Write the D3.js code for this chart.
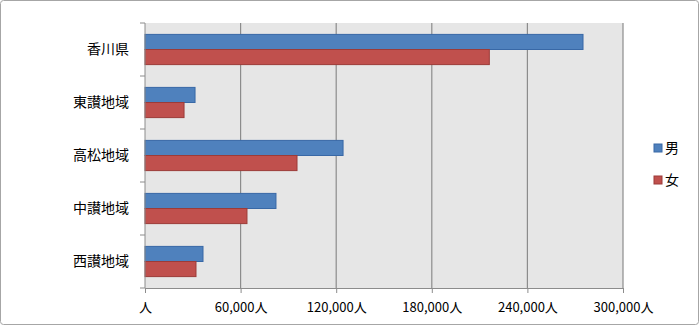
<!DOCTYPE html>
<html><head><meta charset="utf-8">
<script src="https://cdn.jsdelivr.net/npm/d3@7"></script>
<style>body{margin:0;background:#fff}svg{display:block}text{font-family:"Noto Sans CJK JP",sans-serif}</style>
</head><body><svg id="c" width="700" height="326"></svg>
<script>
const categories = ["香川県","東讃地域","高松地域","中讃地域","西讃地域"];
const seriesNames = ["男","女"];
const male = [274900, 31400, 124300, 82200, 36400];
const female = [216100, 24500, 95400, 64000, 32000];
const ticks = [0, 60000, 120000, 180000, 240000, 300000];
const colors = ["#4f81bd","#c0504d"];
const strokes = ["#3868a6","#9c3b38"];

const svg = d3.select("#c");
svg.append("rect").attr("x",0.5).attr("y",0.5).attr("width",698).attr("height",324)
  .attr("rx",3).attr("fill","#fff").attr("stroke","#a6a6a6");

const L=145, R=623, T=23, B=288;
const x = d3.scaleLinear().domain([0,300000]).range([L,R]);
const y = d3.scaleBand().domain(categories).range([T,B]).paddingInner(0.43).paddingOuter(0.215);
const sub = d3.scaleBand().domain(seriesNames).range([0,y.bandwidth()]);

svg.append("rect").attr("x",L).attr("y",T).attr("width",R-L).attr("height",B-T).attr("fill","#e6e6e6");
svg.append("g").selectAll("line").data(ticks.slice(1)).join("line")
  .attr("x1",d=>x(d)).attr("x2",d=>x(d)).attr("y1",T).attr("y2",B)
  .attr("stroke","#8c8c8c").attr("stroke-width",1.2);

const data = [male,female];
data.forEach((vals,si)=>{
  svg.append("g").selectAll("rect").data(vals).join("rect")
    .attr("x",x(0)).attr("y",(d,i)=>y(categories[i])+sub(seriesNames[si]))
    .attr("width",d=>x(d)-x(0)).attr("height",sub.bandwidth())
    .attr("fill",colors[si]).attr("stroke",strokes[si]).attr("stroke-width",1);
});

// left axis
const step = (B-T)/categories.length;
const ga = svg.append("g");
ga.append("line").attr("x1",L).attr("x2",L).attr("y1",T).attr("y2",B).attr("stroke","#8c8c8c");
for(let i=0;i<=categories.length;i++){
  ga.append("line").attr("x1",L-5).attr("x2",L).attr("y1",T+i*step).attr("y2",T+i*step).attr("stroke","#8c8c8c");
}
ga.selectAll("text").data(categories).join("text")
  .attr("x",129).attr("y",d=>y(d)+y.bandwidth()/2).attr("dy","0.35em")
  .attr("text-anchor","end").attr("font-size",14).attr("fill","#000").text(d=>d);

// bottom axis
const xAxis = d3.axisBottom(x).tickValues(ticks).tickSize(5)
  .tickFormat(d=>(d===0?"":d3.format(",")(d))+"人");
const gx = svg.append("g").attr("transform",`translate(0,${B})`).call(xAxis);
gx.select(".domain").attr("stroke","#8c8c8c");
gx.selectAll(".tick line").attr("stroke","#8c8c8c");
gx.selectAll(".tick text").attr("font-size",13).attr("fill","#000").attr("y",15)
  .attr("font-family","'Noto Sans CJK JP',sans-serif");

// legend
const lg = svg.append("g");
seriesNames.forEach((n,i)=>{
  const yy = 148 + i*32;
  lg.append("rect").attr("x",654).attr("y",yy-4).attr("width",8).attr("height",8)
    .attr("fill",colors[i]).attr("stroke",strokes[i]);
  lg.append("text").attr("x",665).attr("y",yy).attr("dy","0.35em").attr("font-size",14).text(n);
});
</script></body></html>
